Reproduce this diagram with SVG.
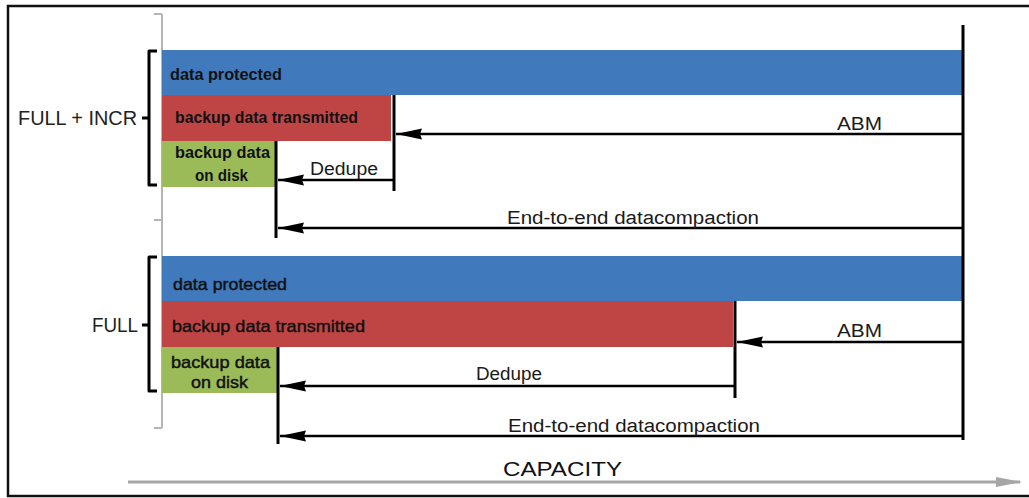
<svg xmlns="http://www.w3.org/2000/svg" width="1029" height="498" viewBox="0 0 1029 498">
<defs>
<style>
.blue{fill:#4079BC}
.red{fill:#BF4545}
.green{fill:#9BBB59}
.lbl{font-family:"Liberation Sans",Arial,sans-serif;fill:#111}
.b1{font-size:16px;font-weight:bold}
.b2{font-size:17px;font-weight:normal;stroke:#111;stroke-width:0.45}
.t{font-size:18px;fill:#1a1a1a}
.big{font-size:20px;fill:#222}
.conn{stroke:#000;stroke-width:2.5;fill:none}
.vert{stroke:#000;stroke-width:3;fill:none}
.brace{stroke:#000;stroke-width:3;fill:none;stroke-linejoin:round}
.gray{stroke:#B4B4B4;stroke-width:2;fill:none}
</style>
<marker id="ah" viewBox="0 0 26 12" refX="26" refY="6" markerWidth="26" markerHeight="12" markerUnits="userSpaceOnUse" orient="auto">
<path d="M0,0.5 L26,6 L0,11.5 L2,6 z" fill="#000"/>
</marker>
<marker id="gh" viewBox="0 0 26 12" refX="24" refY="6" markerWidth="26" markerHeight="12" markerUnits="userSpaceOnUse" orient="auto">
<path d="M0,1 L26,6 L0,11 z" fill="#A6A6A6"/>
</marker>
</defs>
<rect width="1029" height="498" fill="#fff"/>
<path d="M1029,6 H8 V496 H1029" fill="none" stroke="#111" stroke-width="2.5"/>

<g id="scale">
<path class="gray" d="M162,14 V428 M154,14 H162 M154,220 H162 M154,428 H162"/>
</g>

<g id="group1">
<path class="brace" d="M157,51 H149 V185 H157 M149,118 H142"/>
<text class="lbl big" x="18" y="125" textLength="119" lengthAdjust="spacingAndGlyphs">FULL + INCR</text>
</g>
<g id="group2">
<path class="brace" d="M157,257 H149 V391 H157 M149,325 H142"/>
<text class="lbl big" x="92" y="332" textLength="46" lengthAdjust="spacingAndGlyphs">FULL</text>
</g>

<g id="bar1-protected">
<rect class="blue" x="162" y="50" width="801" height="45"/>
<text class="lbl b1" x="170" y="80" textLength="112" lengthAdjust="spacingAndGlyphs">data protected</text>
</g>
<g id="bar1-transmitted">
<rect class="red" x="162" y="95" width="229" height="46"/>
<text class="lbl b1" x="175" y="123" textLength="183" lengthAdjust="spacingAndGlyphs">backup data transmitted</text>
</g>
<g id="bar1-disk">
<rect class="green" x="162" y="141" width="113" height="46"/>
<text class="lbl b1" x="175" y="158" textLength="95" lengthAdjust="spacingAndGlyphs">backup data</text>
<text class="lbl b1" x="195" y="181" textLength="53" lengthAdjust="spacingAndGlyphs">on disk</text>
</g>

<g id="bar2-protected">
<rect class="blue" x="162" y="256" width="801" height="45"/>
<text class="lbl b2" x="173" y="290" textLength="114" lengthAdjust="spacingAndGlyphs">data protected</text>
</g>
<g id="bar2-transmitted">
<rect class="red" x="162" y="301" width="571" height="46"/>
<text class="lbl b2" x="172" y="332" textLength="193" lengthAdjust="spacingAndGlyphs">backup data transmitted</text>
</g>
<g id="bar2-disk">
<rect class="green" x="162" y="347" width="115" height="46"/>
<text class="lbl b2" x="171" y="368" textLength="99" lengthAdjust="spacingAndGlyphs">backup data</text>
<text class="lbl b2" x="191" y="388" textLength="57" lengthAdjust="spacingAndGlyphs">on disk</text>
</g>

<g id="connectors">
<path class="vert" d="M963,25 V440"/>
<path class="vert" d="M394,95 V191"/>
<path class="vert" d="M276,141 V238"/>
<path class="vert" d="M735,301 V398"/>
<path class="vert" d="M278,347 V444"/>
<line class="conn" x1="963" y1="134" x2="396" y2="134" marker-end="url(#ah)"/>
<line class="conn" x1="394" y1="180" x2="278" y2="180" marker-end="url(#ah)"/>
<line class="conn" x1="963" y1="228" x2="278" y2="228" marker-end="url(#ah)"/>
<line class="conn" x1="963" y1="342" x2="737" y2="342" marker-end="url(#ah)"/>
<line class="conn" x1="735" y1="386" x2="280" y2="386" marker-end="url(#ah)"/>
<line class="conn" x1="963" y1="436" x2="280" y2="436" marker-end="url(#ah)"/>
<line x1="128" y1="482" x2="1020" y2="482" stroke="#A6A6A6" stroke-width="3" marker-end="url(#gh)"/>
</g>

<g id="connector-labels">
<text class="lbl t" x="837" y="130" textLength="45" lengthAdjust="spacingAndGlyphs">ABM</text>
<text class="lbl t" x="310" y="175" textLength="68" lengthAdjust="spacingAndGlyphs">Dedupe</text>
<text class="lbl t" x="507" y="224" textLength="252" lengthAdjust="spacingAndGlyphs">End-to-end datacompaction</text>
<text class="lbl t" x="837" y="337" textLength="45" lengthAdjust="spacingAndGlyphs">ABM</text>
<text class="lbl t" x="476" y="380" textLength="66" lengthAdjust="spacingAndGlyphs">Dedupe</text>
<text class="lbl t" x="508" y="432" textLength="252" lengthAdjust="spacingAndGlyphs">End-to-end datacompaction</text>
<text class="lbl" x="503" y="476" font-size="21" fill="#333" textLength="119" lengthAdjust="spacingAndGlyphs">CAPACITY</text>
</g>
</svg>
